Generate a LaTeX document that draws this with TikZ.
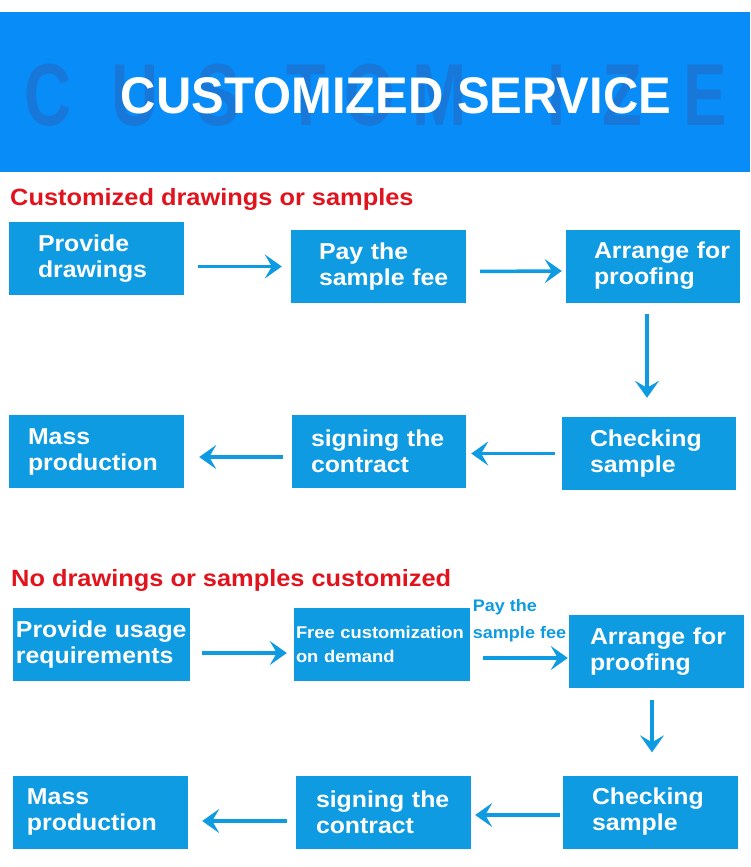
\documentclass[tikz,border=0pt]{standalone}
\usepackage{fontspec}
\setmainfont{Liberation Sans}
\newfontfamily\boxfont{Liberation Sans Bold}[FakeStretch=1.08]
\newfontfamily\titlefont{Liberation Sans Bold}[FakeStretch=0.95]
\newfontfamily\ghostfont{Liberation Sans Bold}[FakeStretch=0.74]
\usetikzlibrary{arrows.meta,positioning,calc}
\definecolor{bandblue}{RGB}{8,140,247}
\definecolor{ghostblue}{RGB}{24,120,218}
\definecolor{boxblue}{RGB}{14,155,226}
\definecolor{headred}{RGB}{225,20,30}

\begin{document}
\begin{tikzpicture}[
  x=1pt, y=-1pt, >={Stealth[length=17pt,width=24pt,inset=7pt]},
  box/.style={fill=boxblue, text=white, align=left, minimum height=73pt, inner ysep=0pt, font=\boxfont\fontsize{23}{26}\selectfont},
  head/.style={anchor=base west, text=headred, inner sep=0pt, font=\boxfont\fontsize{23.5}{27}\selectfont},
  ghost/.style={anchor=base, text=ghostblue, inner sep=0pt, font=\ghostfont\fontsize{88}{90}\selectfont},
  flow/.style={->, draw=boxblue, line width=3.5pt},
  fee/.style={text=boxblue, align=left, inner sep=0pt, font=\boxfont\fontsize{16.7}{27}\selectfont}]
\useasboundingbox (0,0) rectangle (750,867);
\fill[bandblue] (0,12) rectangle (750,172);
\foreach \ch/\cx in {C/48,U/135,S/218,T/306,O/370,M/440,I/557,Z/622,E/705}
  \node[ghost] (g\ch) at (\cx,125) {\ch};
\node[anchor=base, text=white, inner sep=0pt, font=\titlefont\fontsize{51.5}{55}\selectfont] (title) at (396,113) {CUSTOMIZED SERVICE};
\node[head] (h1) at (10,205) {Customized drawings or samples};
\node[head] (h2) at (11,586) {No drawings or samples customized};
\node[box, text width=117pt, inner xsep=29pt] (prov) at (96.5,258.5) {Provide\\ drawings};
\node[box, text width=119pt, inner xsep=28pt] (pay) at (378.5,266.5) {Pay~the\\ sample~fee};
\node[box, text width=118pt, inner xsep=28pt] (arr) at (653,266) {Arrange~for\\ proofing};
\node[box, text width=118pt, inner xsep=28pt] (chk) at (649,453.5) {Checking\\ sample};
\node[box, text width=136pt, inner xsep=19pt] (sign) at (379,451.5) {signing~the\\ contract};
\node[box, text width=137pt, inner xsep=19pt] (mass) at (96.5,451.5) {Mass\\ production};
\node[box, text width=171pt, inner xsep=3pt] (usage) at (101.5,644.5) {\mbox{Provide usage}\\ requirements};
\node[box, text width=172pt, inner xsep=2pt, font=\boxfont\fontsize{17}{24}\selectfont] (free) at (382,644.5) {\mbox{Free customization}\\ on~demand};
\node[box, text width=133pt, inner xsep=21pt] (arr2) at (656.5,651.5) {Arrange~for\\ proofing};
\node[box, text width=117pt, inner xsep=29pt] (chk2) at (650.5,812) {Checking\\ sample};
\node[box, text width=135pt, inner xsep=20pt] (sign2) at (383.5,812) {signing~the\\ contract};
\node[box, text width=147pt, inner xsep=14pt] (mass2) at (100.5,812) {Mass\\ production};
\draw[flow, shorten <=14pt, shorten >=9pt] (prov.east |- pay.west) -- (pay.west);
\draw[flow, shorten <=14pt, shorten >=4pt] ([yshift=-5pt]pay.east) -- ([yshift=-5pt]arr.west);
\draw[flow, shorten <=11pt, shorten >=19pt] ([xshift=-2pt]chk.north |- arr.south) -- ([xshift=-2pt]chk.north);
\draw[flow, shorten <=7pt, shorten >=5pt] (chk.west) -- (chk.west -| sign.east);
\draw[flow, shorten <=9pt, shorten >=15pt] ([yshift=-5.5pt]sign.west) -- ([yshift=-5.5pt]sign.west -| mass.east);
\draw[flow, shorten <=12pt, shorten >=7pt] ([yshift=-8.5pt]usage.east) -- ([yshift=-8.5pt]usage.east -| free.west);
\draw[flow, shorten <=13pt, shorten >=1pt] ([yshift=-6.5pt]arr2.west -| free.east) -- node[fee, above=14pt] (feelbl) {Pay~the\\ sample~fee} ([yshift=-6.5pt]arr2.west);
\draw[flow, shorten <=12pt, shorten >=23pt] ([xshift=-4.5pt]arr2.south) -- ([xshift=-4.5pt]arr2.south |- chk2.north);
\draw[flow, shorten <=3pt, shorten >=4pt] ([yshift=-3pt]chk2.west) -- ([yshift=-3pt]chk2.west -| sign2.east);
\draw[flow, shorten <=9pt, shorten >=14pt] ([yshift=-9pt]sign2.west) -- ([yshift=-9pt]sign2.west -| mass2.east);
\end{tikzpicture}
\end{document}
